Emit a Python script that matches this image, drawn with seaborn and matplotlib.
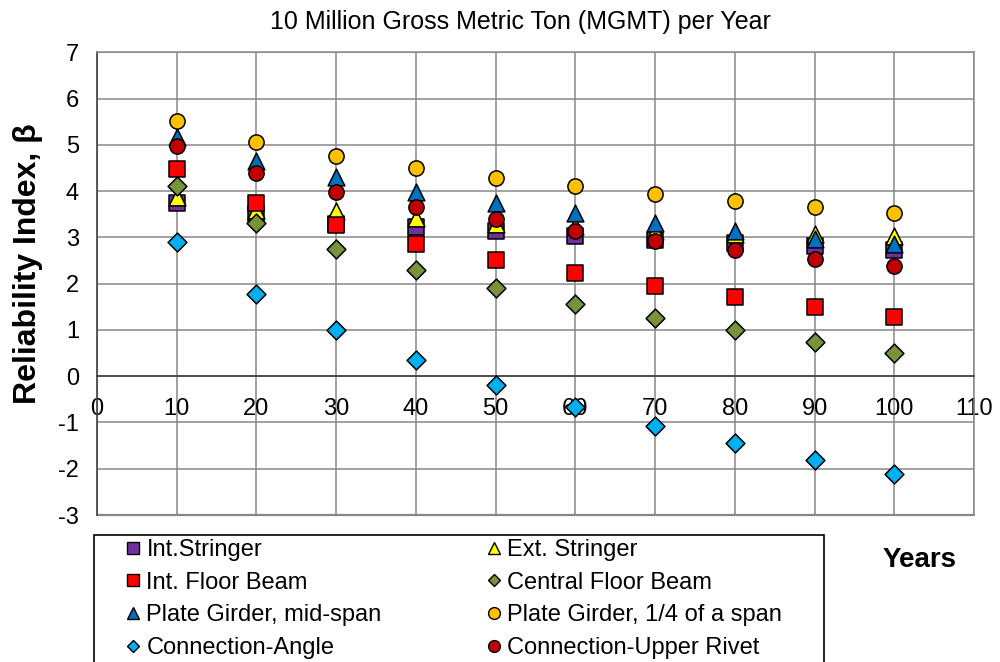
import matplotlib
matplotlib.use("Agg")
import matplotlib.pyplot as plt
import numpy as np
import pandas as pd
import seaborn as sns
from matplotlib.lines import Line2D
from matplotlib.patches import Rectangle

# Reliability index beta over service life, 10 MGMT per year
years = [10, 20, 30, 40, 50, 60, 70, 80, 90, 100]
int_stringer = [3.75, 3.50, 3.30, 3.23, 3.13, 3.02, 2.95, 2.88, 2.81, 2.72]
ext_stringer = [3.88, 3.60, 3.57, 3.42, 3.28, 3.25, 3.13, 3.08, 3.07, 3.03]
int_floor_beam = [4.47, 3.74, 3.27, 2.85, 2.51, 2.22, 1.95, 1.72, 1.49, 1.28]
central_floor_beam = [4.12, 3.31, 2.74, 2.29, 1.90, 1.57, 1.26, 1.00, 0.75, 0.51]
plate_girder_mid = [5.18, 4.66, 4.30, 3.99, 3.74, 3.53, 3.31, 3.14, 2.97, 2.85]
plate_girder_quarter = [5.52, 5.06, 4.76, 4.50, 4.28, 4.10, 3.94, 3.79, 3.65, 3.53]
connection_angle = [2.90, 1.77, 0.99, 0.34, -0.19, -0.66, -1.07, -1.45, -1.80, -2.11]
connection_rivet = [4.98, 4.39, 3.99, 3.66, 3.39, 3.13, 2.92, 2.72, 2.53, 2.38]

series_names = ["Int.Stringer", "Ext. Stringer", "Int. Floor Beam", "Central Floor Beam",
                "Plate Girder, mid-span", "Plate Girder, 1/4 of a span",
                "Connection-Angle", "Connection-Upper Rivet"]
series_values = [int_stringer, ext_stringer, int_floor_beam, central_floor_beam,
                 plate_girder_mid, plate_girder_quarter, connection_angle, connection_rivet]
series_colors = ["#7030A0", "#FFFF00", "#FF0000", "#77933C",
                 "#0070C0", "#FFC000", "#00B0F0", "#C00000"]
series_markers = ["s", "^", "s", "D", "^", "o", "D", "o"]
marker_area = {"s": 117, "^": 145, "D": 92, "o": 120}
legend_msize = {"s": 8, "^": 8.5, "D": 6.5, "o": 8.5}

title = "10 Million Gross Metric Ton (MGMT) per Year"
y_title = "Reliability Index, \u03b2"
x_title = "Years"

sns.set_theme(style="white")
plt.rcParams["font.family"] = ["Liberation Sans", "DejaVu Sans"]
plt.rcParams["axes.unicode_minus"] = False
plt.rcParams["text.color"] = "black"

df = pd.concat(
    [pd.DataFrame({"year": years, "beta": vals, "member": name})
     for name, vals in zip(series_names, series_values)],
    ignore_index=True,
)

fig = plt.figure(figsize=(10, 6.62), dpi=100)
ax = fig.add_axes([0.097, 0.222, 0.877, 0.699])

grid_c = "#878787"
for name, col, mk in zip(series_names, series_colors, series_markers):
    sns.scatterplot(data=df[df["member"] == name], x="year", y="beta",
                    marker=mk, color=col, s=marker_area[mk],
                    edgecolor="black", linewidth=1.1, ax=ax, zorder=3,
                    legend=False)

ax.set_xlim(0, 110)
ax.set_ylim(-3, 7)
ax.set_xticks(np.arange(0, 111, 10))
ax.set_yticks(np.arange(-3, 8, 1))
ax.grid(True, color=grid_c, lw=1.1)
ax.set_axisbelow(True)
ax.set_xlabel("")
ax.set_ylabel("")

ax.spines["bottom"].set_position(("data", 0))
for side in ("bottom", "left"):
    ax.spines[side].set_color("#404040")
    ax.spines[side].set_linewidth(1.2)
for side in ("top", "right"):
    ax.spines[side].set_color(grid_c)
    ax.spines[side].set_linewidth(1.1)
ax.axhline(-3, color=grid_c, lw=1.6, clip_on=False, zorder=1)

ax.tick_params(axis="both", length=0, labelsize=17, colors="black")
ax.tick_params(axis="x", pad=16)
ax.tick_params(axis="y", pad=13)

fig.text(0.52, 1 - 22 / 662, title, ha="center", va="center",
         fontsize=18, color="black")
fig.text(0.028, 1 - 264 / 662, y_title, ha="center", va="center",
         rotation=90, fontsize=23, fontweight="bold", color="black")
fig.text(0.920, 1 - 560 / 662, x_title, ha="center", va="center",
         fontsize=20, fontweight="bold", color="black")

# legend: row-major order in two columns
handles = [Line2D([], [], ls="none", marker=mk, markersize=legend_msize[mk],
                  markerfacecolor=col, markeredgecolor="black", markeredgewidth=1.0)
           for col, mk in zip(series_colors, series_markers)]
order = [0, 2, 4, 6, 1, 3, 5, 7]
fig.patches.append(Rectangle((0.094, -0.05), 0.730, 1 - 535 / 662 + 0.05,
                             transform=fig.transFigure, fill=False,
                             ec="black", lw=1.2))
leg = fig.legend([handles[i] for i in order], [series_names[i] for i in order],
                 loc="upper left", bbox_to_anchor=(0.124, 1 - 539 / 662),
                 ncol=2, frameon=False, fontsize=17, handletextpad=0.15,
                 handlelength=0.8, columnspacing=4.35, labelspacing=0.45,
                 borderpad=0, borderaxespad=0)
for t in leg.get_texts():
    t.set_color("black")

fig.savefig("out.png", dpi=100)
